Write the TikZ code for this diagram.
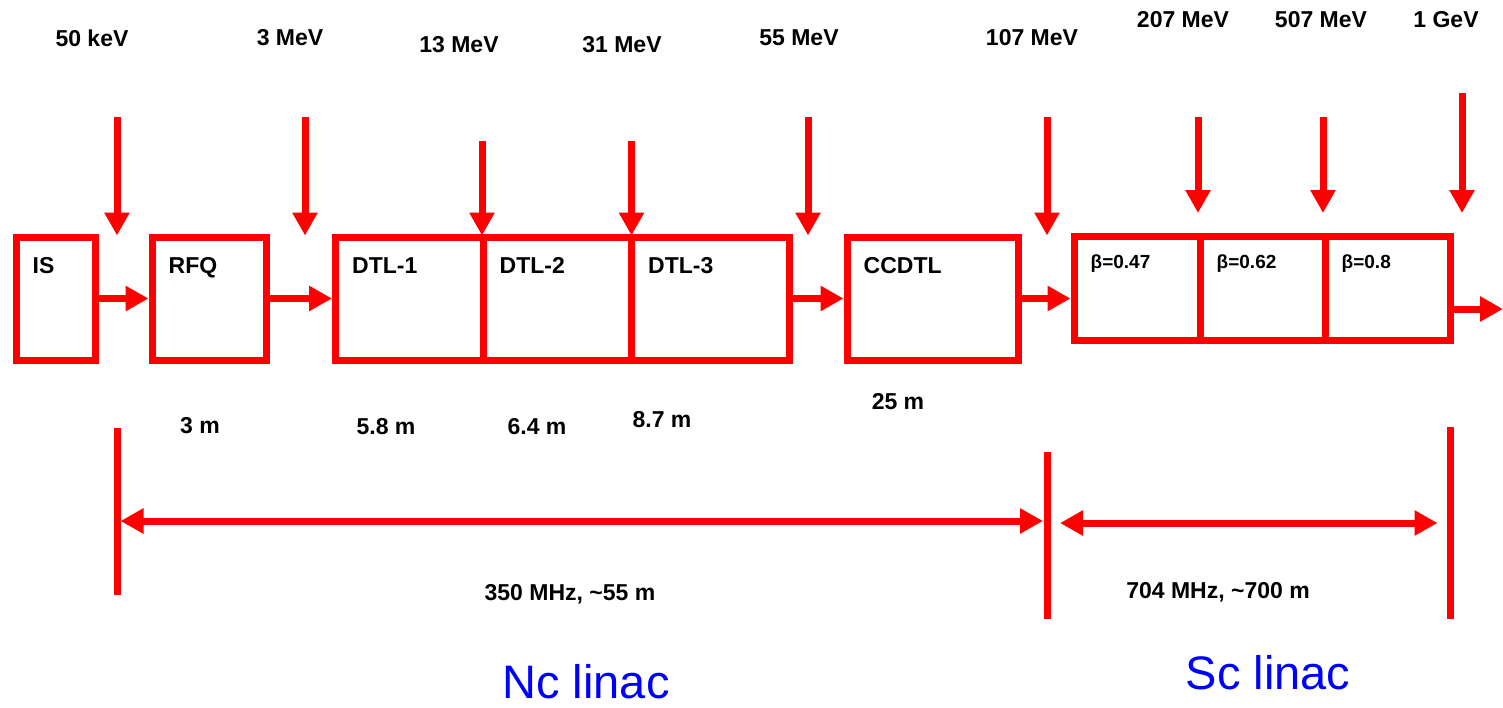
\documentclass[tikz,border=0pt]{standalone}
\usepackage{fontspec}
\setmainfont{Liberation Sans}
\usetikzlibrary{arrows.meta}
\definecolor{linacred}{RGB}{255,0,0}
\definecolor{linacblue}{RGB}{0,0,255}
\newlength{\BeamWidth}
\setlength{\BeamWidth}{7pt}
\tikzset{
  cavity/.style={draw=linacred, line width=\BeamWidth, inner sep=0pt, minimum height=123pt},
  sc cavity/.style={cavity, minimum height=104pt},
  cavity name/.style={anchor=base west, inner sep=0pt, font=\fontsize{23}{27}\selectfont\bfseries},
  beta name/.style={cavity name, font=\fontsize{19}{23}\selectfont\bfseries},
  energy/.style={inner sep=0pt, font=\fontsize{23}{27}\selectfont\bfseries},
  beam/.style={->, draw=linacred, line width=\BeamWidth},
  section/.style={<->, draw=linacred, line width=\BeamWidth},
  marker/.style={draw=linacred, line width=\BeamWidth},
  linac name/.style={inner sep=0pt, text=linacblue, font=\fontsize{47}{52}\selectfont},
}

\begin{document}
\begin{tikzpicture}[
    x=1pt, y=-1pt,
    >={Triangle[length=23pt,width=24pt]}
  ]
  \useasboundingbox (0,0) rectangle (1503,707);

  % cavities
  \node[cavity, minimum width=79.5pt] (is) at (55.75,298.5) {};
  \node[cavity, minimum width=114pt] (rfq) at (209,298.5) {};
  \node[cavity, minimum width=147.5pt] (dtl1) at (409.25,298.5) {};
  \node[cavity, minimum width=148.5pt] (dtl2) at (557.25,298.5) {};
  \node[cavity, minimum width=158pt] (dtl3) at (710.5,298.5) {};
  \node[cavity, minimum width=171pt] (ccdtl) at (932.5,298.5) {};
  \node[sc cavity, minimum width=126pt] (sc1) at (1137,288) {};
  \node[sc cavity, minimum width=125pt] (sc2) at (1262.5,288) {};
  \node[sc cavity, minimum width=125pt] (sc3) at (1387.5,288) {};

  \node[cavity name] at ([xshift=20pt,yshift=-39.5pt]is.north west) {IS};
  \node[cavity name] at ([xshift=20pt,yshift=-39.5pt]rfq.north west) {RFQ};
  \node[cavity name] at ([xshift=20pt,yshift=-39.5pt]dtl1.north west) {DTL-1};
  \node[cavity name] at ([xshift=20pt,yshift=-39.5pt]dtl2.north west) {DTL-2};
  \node[cavity name] at ([xshift=20pt,yshift=-39.5pt]dtl3.north west) {DTL-3};
  \node[cavity name] at ([xshift=20pt,yshift=-39.5pt]ccdtl.north west) {CCDTL};
  \node[beta name] at ([xshift=20pt,yshift=-35.5pt]sc1.north west) {β=0.47};
  \node[beta name] at ([xshift=20pt,yshift=-35.5pt]sc2.north west) {β=0.62};
  \node[beta name] at ([xshift=20pt,yshift=-35.5pt]sc3.north west) {β=0.8};

  % beam line
  \coordinate (exit) at (1503,309);
  \draw[beam] (is.east) -- (rfq.west);
  \draw[beam] (rfq.east) -- (dtl1.west);
  \draw[beam] (dtl3.east) -- (ccdtl.west);
  \draw[beam] (ccdtl.east) -- (ccdtl.east -| sc1.west);
  \draw[beam] (sc3.east |- exit) -- (exit);

  % energies
  \node[energy] (kev50) at (92,38) {50 keV};
  \node[energy] (mev3) at (290,38) {3 MeV};
  \node[energy] (mev13) at (459,45) {13 MeV};
  \node[energy] (mev31) at (622,45) {31 MeV};
  \node[energy] (mev55) at (799,38) {55 MeV};
  \node[energy] (mev107) at (1032,38) {107 MeV};
  \node[energy] (mev207) at (1183,20) {207 MeV};
  \node[energy] (mev507) at (1321,20) {507 MeV};
  \node[energy] (gev1) at (1446,20) {1 GeV};

  \coordinate (in50) at (117,117);
  \coordinate (in3) at (305,117);
  \coordinate (in13) at (482,141);
  \coordinate (in31) at (631.5,141);
  \coordinate (in55) at (808,117);
  \coordinate (in107) at (1047,117);
  \coordinate (in207) at (1198,117);
  \coordinate (in507) at (1323,117);
  \coordinate (in1g) at (1462,93);

  \draw[beam] (in50) -- ([yshift=-2pt]in50 |- rfq.north);
  \draw[beam] (in3) -- ([yshift=-2pt]in3 |- dtl1.north);
  \draw[beam] (in13) -- ([yshift=-2pt]in13 |- dtl1.north);
  \draw[beam] (in31) -- ([yshift=-2pt]in31 |- dtl3.north);
  \draw[beam] (in55) -- ([yshift=-2pt]in55 |- ccdtl.north);
  \draw[beam] (in107) -- ([yshift=-2pt]in107 |- ccdtl.north);
  \draw[beam] (in207) -- ++(0,96);
  \draw[beam] (in507) -- ++(0,96);
  \draw[beam] (in1g) -- ++(0,120);

  % lengths
  \node[energy] at (200,426) {3 m};
  \node[energy] at (386,427) {5.8 m};
  \node[energy] at (537,427) {6.4 m};
  \node[energy] at (662,420) {8.7 m};
  \node[energy] at (898,402) {25 m};

  % sections
  \coordinate (nc left) at (117,521);
  \coordinate (nc right) at (1047,521);
  \coordinate (sc right) at (1450.5,523);
  \draw[marker] (117,428) -- (117,595);
  \draw[marker] (1047,452) -- (1047,619);
  \draw[marker] (1450.5,427) -- (1450.5,619);
  \draw[section] ([xshift=3.5pt]nc left) -- ([xshift=-4pt]nc right);
  \draw[section] ([xshift=13pt]nc right |- sc right) -- ([xshift=-13pt]sc right);

  \node[energy] at (570,594) {350 MHz, \textasciitilde55 m};
  \node[energy] at (1218,592) {704 MHz, \textasciitilde700 m};

  \node[linac name] at (586,682) {Nc linac};
  \node[linac name] at (1268,673) {Sc linac};
\end{tikzpicture}
\end{document}
